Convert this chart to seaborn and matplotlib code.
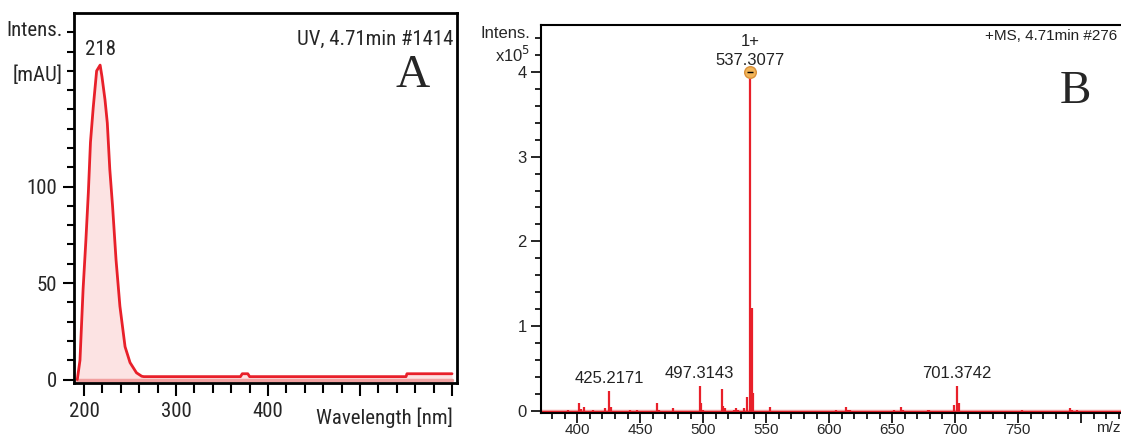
import numpy as np
import pandas as pd
import matplotlib
matplotlib.use("Agg")
import matplotlib.pyplot as plt
import seaborn as sns
from matplotlib import font_manager as fm
from matplotlib.ticker import MultipleLocator, FixedLocator
from matplotlib.transforms import blended_transform_factory

# ---------------- data ----------------
# Panel A: UV spectrum
uv_wavelength = [192.7, 195.6, 199, 202, 204.7, 207, 210, 213.7, 217.5, 219.5,
                 222.8, 225.3, 228, 231, 234.8, 239, 244.6, 250, 257, 262.7,
                 265, 370, 372, 378, 380, 550, 551, 600]
uv_intensity = [0, 10, 47, 72, 97, 123, 141, 160, 163, 157,
                145, 133, 109, 90, 62, 38, 17, 8.8, 3.5, 1.7,
                1.5, 1.5, 3.0, 3.0, 1.5, 1.5, 3.0, 3.0]
uv_peak_label = "218"
uv_peak_pos = (217.5, 163)

# Panel B: MS spectrum (intensity in units of 1e5)
ms_mz = [392.9, 401.5, 402.8, 405.1, 412.7, 422.2, 425.2, 426.5, 442.3, 447.6,
         463.4, 464.7, 476.2, 497.3, 498.6, 500.3, 514.8, 516.1, 517.4, 524.7,
         526.3, 528.0, 532.6, 534.5, 537.3, 538.5, 539.8, 553.3, 605.7, 613.3,
         614.9, 616.9, 651.8, 657.1, 658.4, 678.1, 679.5, 698.9, 701.4, 702.9,
         753.3, 791.2, 792.8, 796.7]
ms_int = [0.01, 0.09, 0.02, 0.05, 0.015, 0.03, 0.24, 0.05, 0.015, 0.015,
          0.09, 0.015, 0.04, 0.30, 0.09, 0.015, 0.26, 0.06, 0.04, 0.015,
          0.03, 0.015, 0.04, 0.17, 3.98, 1.21, 0.21, 0.05, 0.015, 0.05,
          0.015, 0.015, 0.015, 0.05, 0.015, 0.015, 0.015, 0.07, 0.30, 0.09,
          0.015, 0.03, 0.015, 0.01]
ms_labels = ["425.2171", "497.3143", "701.3742"]
ms_label_mz = [425.2, 497.3, 701.4]
ms_label_int = [0.24, 0.30, 0.30]
ms_main_mz = 537.3
ms_main_int = 3.98
ms_main_label = "537.3077"
ms_main_charge = "1+"

# ---------------- style ----------------
sns.set_theme(style="white")
names = {f.name for f in fm.fontManager.ttflist}
narrow = None
for cand in ["Liberation Sans Narrow", "Arial Narrow", "Roboto Condensed",
             "Open Sans Condensed", "DejaVu Sans Condensed"]:
    if cand in names:
        narrow = cand
        break
if narrow is None:
    narrow = "Liberation Sans"
    nscale = 0.86
else:
    nscale = 1.0
plt.rcParams["font.family"] = ["Liberation Sans", "DejaVu Sans"]

RED = "#e8202a"
FILL = "#fce3e3"

W, H = 1121, 436
fig = plt.figure(figsize=(W / 100, H / 100), dpi=100)

def frac(left, top, right, bottom):
    return [left / W, (H - bottom) / H, (right - left) / W, (bottom - top) / H]

# ---------------- panel A ----------------
axA = fig.add_axes(frac(74, 13, 457, 383))
dfA = pd.DataFrame({"wl": uv_wavelength, "I": uv_intensity})
axA.fill_between(dfA["wl"], 0, dfA["I"], color=FILL, lw=0, zorder=1)
axA.plot([uv_wavelength[0], uv_wavelength[-1]], [0, 0], color="#f2a0a0", lw=2.5, zorder=1.5)
sns.lineplot(data=dfA, x="wl", y="I", ax=axA, color=RED, lw=2.0, sort=False,
             estimator=None, zorder=2)
axA.set_xlim(189.1, 605.4)
axA.set_ylim(-1.8, 190)
axA.set_xlabel("")
axA.set_ylabel("")
fsA = 15 * nscale
famA = [narrow, "DejaVu Sans"]
axA.xaxis.set_major_locator(FixedLocator([200, 300, 400, 500, 600]))
axA.xaxis.set_minor_locator(MultipleLocator(20))
axA.set_xticklabels(["200", "300", "400", "", ""])
axA.yaxis.set_major_locator(FixedLocator([0, 50, 100]))
axA.yaxis.set_minor_locator(FixedLocator(np.arange(0, 181, 10)))
axA.tick_params(axis="both", which="both", direction="out", color="black",
                width=1.5, labelsize=fsA, bottom=True, left=True,
                top=False, right=False)
axA.tick_params(axis="x", which="major", length=9, pad=5)
axA.tick_params(axis="x", which="minor", length=7)
axA.tick_params(axis="y", which="major", length=8, pad=4)
axA.tick_params(axis="y", which="minor", length=5)
for lab in axA.get_xticklabels() + axA.get_yticklabels():
    lab.set_family(famA)
for sp in axA.spines.values():
    sp.set_color("black")
    sp.set_linewidth(2)
tA = blended_transform_factory(axA.transData, axA.transAxes)
axA.text(601, -0.093, "Wavelength [nm]", transform=tA, ha="right", va="center",
         fontsize=fsA, family=famA)
axA.text(uv_peak_pos[0], uv_peak_pos[1] + 3, uv_peak_label, ha="center", va="bottom",
         fontsize=fsA, family=famA)
axA.text(0.99, 0.955, "UV, 4.71min #1414", transform=axA.transAxes, ha="right",
         va="top", fontsize=fsA, family=famA)
axA.text(0.885, 0.83, "A", transform=axA.transAxes, ha="center", va="center",
         fontsize=34, family=["Liberation Serif", "DejaVu Serif"])
fig.text(63 / W, 1 - 30 / H, "Intens.", ha="right", va="center", fontsize=fsA,
         family=famA)
fig.text(63 / W, 1 - 75 / H, "[mAU]", ha="right", va="center", fontsize=fsA,
         family=famA)

# ---------------- panel B ----------------
axB = fig.add_axes(frac(540.6, 25, 1135, 412.5))
axB.set_xlim(371.0, 842.8)
axB.set_ylim(-0.018, 4.552)
axB.axhline(0, color="#f4a3a3", lw=2.5, zorder=1)
axB.axhline(0, color=RED, lw=0.8, zorder=1.5)
axB.vlines(ms_mz, 0, ms_int, color=RED, lw=1.6, zorder=2)
sns.scatterplot(x=[ms_main_mz], y=[ms_main_int + 0.02], ax=axB, s=70,
                color="#f2b458", edgecolor="#d9903a", linewidth=1, zorder=3)
axB.plot([ms_main_mz], [ms_main_int + 0.02], marker="_", color="black",
         ms=4, mew=1, zorder=4)
axB.set_xlabel("")
axB.set_ylabel("")
axB.xaxis.set_major_locator(MultipleLocator(50))
axB.xaxis.set_minor_locator(MultipleLocator(10))
axB.xaxis.set_major_formatter(lambda v, p: "" if v >= 800 else f"{v:.0f}")
axB.yaxis.set_major_locator(MultipleLocator(1))
axB.yaxis.set_minor_locator(MultipleLocator(0.2))
axB.tick_params(axis="both", which="both", direction="out", color="black",
                width=1.2, labelsize=12, bottom=True, left=True,
                top=False, right=False)
axB.tick_params(axis="x", which="major", length=7, pad=0.5, labelsize=11)
axB.tick_params(axis="x", which="minor", length=4)
axB.tick_params(axis="y", which="major", length=7, pad=3)
axB.tick_params(axis="y", which="minor", length=4)
for sp in axB.spines.values():
    sp.set_color("black")
    sp.set_linewidth(1.5)
tB = blended_transform_factory(axB.transData, axB.transAxes)
axB.text(812, -0.022, "m/z", transform=tB, ha="left", va="top", fontsize=11)
for lab, mz, h in zip(ms_labels, ms_label_mz, ms_label_int):
    axB.annotate(lab, (mz, h), xytext=(0, 3), textcoords="offset points",
                 ha="center", va="bottom", fontsize=12, color="#222222")
axB.annotate(ms_main_label, (ms_main_mz, ms_main_int), xytext=(0, 4),
             textcoords="offset points", ha="center", va="bottom",
             fontsize=12, color="#222222", zorder=1)
axB.annotate(ms_main_charge, (ms_main_mz, ms_main_int), xytext=(0, 18),
             textcoords="offset points", ha="center", va="bottom",
             fontsize=12, color="#222222")
fig.text(985 / W, 1 - 36 / H, "+MS, 4.71min #276", ha="left", va="center",
         fontsize=11, color="#222222")
fig.text(1075 / W, 1 - 92 / H, "B", ha="center", va="center", fontsize=34,
         family=["Liberation Serif", "DejaVu Serif"])
fig.text(530 / W, 1 - 33 / H, "Intens.", ha="right", va="center", fontsize=12)
fig.text(530 / W, 1 - 55 / H, r"x10$^{5}$", ha="right", va="center", fontsize=12)

fig.savefig("out.png", dpi=100)
